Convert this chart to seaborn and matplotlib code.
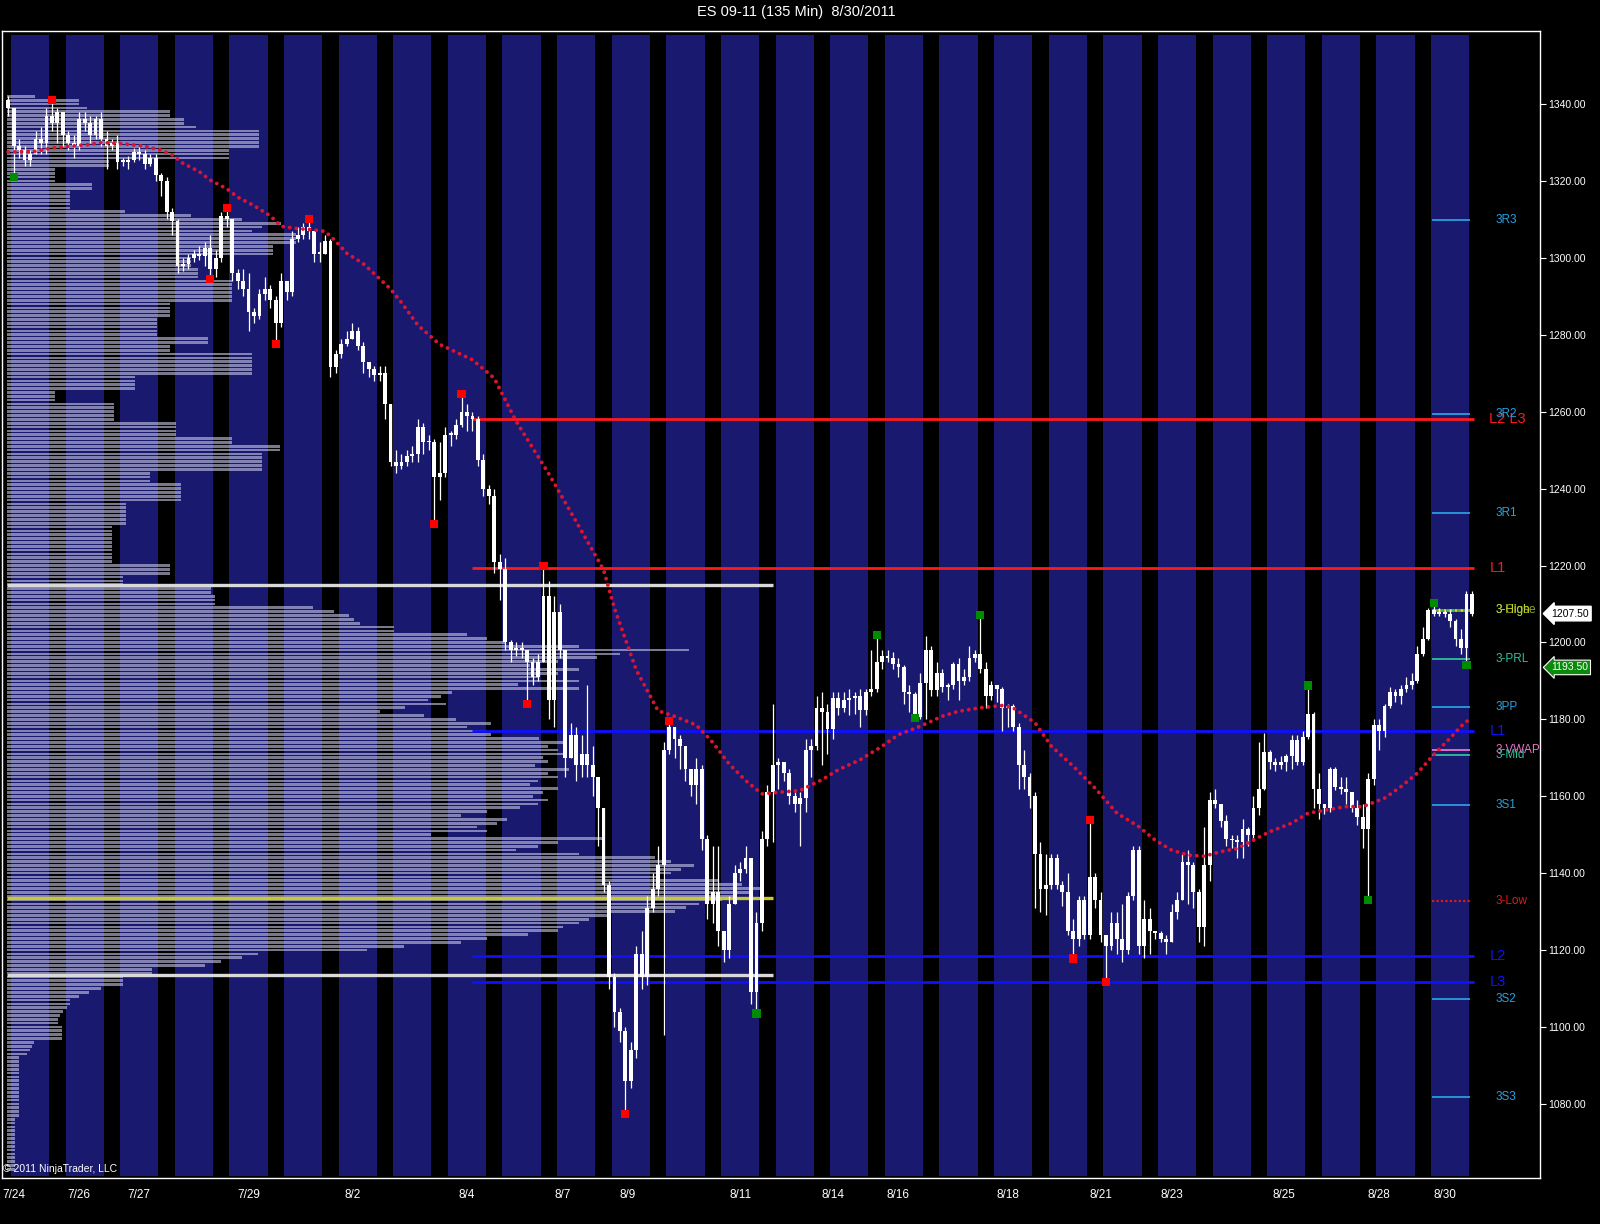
import matplotlib
matplotlib.use('Agg')
import matplotlib.pyplot as plt
import seaborn as sns
import numpy as np
import pandas as pd

# ES 09-11, 135 min bars, 7/24 - 8/30/2011 (one row per session)
first_open = 1341
closes = [
    1339, 1329, 1328, 1325.5, 1327, 1331, 1330, 1337, 1335, 1338,
    1332, 1330, 1329, 1336, 1335, 1332, 1336, 1331, 1329, 1330,
    1325, 1325, 1325.5, 1327.5, 1327, 1324.5, 1326, 1321.5, 1320, 1312,
    1309.5, 1298, 1298.5, 1300, 1301, 1300.5, 1302.5, 1297, 1300, 1311,
    1310, 1296, 1294, 1292, 1286, 1285, 1290.5, 1292, 1289, 1283,
    1294, 1291, 1305, 1306, 1308, 1307, 1301, 1301, 1304.5, 1271.5,
    1275, 1277.5, 1279, 1281, 1277, 1273, 1271, 1269.5, 1270, 1262,
    1247, 1246, 1247, 1248.5, 1249, 1256, 1252, 1252, 1243, 1244,
    1254, 1254, 1256.5, 1260, 1259, 1258, 1247.5, 1240, 1238, 1221,
    1219, 1200, 1198, 1198.5, 1198, 1195, 1191, 1195, 1212, 1185,
    1208, 1198, 1170, 1176, 1168, 1171, 1168, 1165, 1157, 1137,
    1113, 1104, 1099, 1086, 1094, 1119, 1113, 1131, 1136, 1142,
    1172, 1178, 1175, 1173, 1167, 1163, 1167, 1149, 1132, 1135,
    1125, 1120, 1132, 1140, 1141, 1144, 1109, 1127, 1149, 1161,
    1168, 1169, 1166, 1160, 1158, 1159.5, 1172, 1173, 1183, 1182,
    1177.5, 1185.5, 1183, 1185, 1185.5, 1186, 1182.5, 1187, 1188, 1195,
    1196.5, 1196, 1194.5, 1193.5, 1187, 1186.5, 1180.5, 1189.5, 1198, 1187.5,
    1192, 1188.5, 1189, 1194.5, 1190, 1191, 1196, 1197, 1193, 1186,
    1189, 1188, 1183, 1183.5, 1178, 1168, 1165, 1160, 1145, 1136,
    1137, 1144, 1137, 1135, 1125, 1123, 1133, 1124, 1139, 1133,
    1124, 1121, 1127, 1123, 1120, 1134, 1146, 1121, 1128, 1125,
    1124.5, 1123, 1122, 1130, 1133, 1143, 1142, 1135, 1126, 1142,
    1159, 1158, 1153.5, 1149, 1148.5, 1148, 1151.5, 1150, 1157, 1162,
    1171.5, 1169, 1168, 1169, 1170.5, 1174.5, 1169, 1175.5, 1181.5, 1162,
    1158, 1157, 1167, 1162.5, 1162, 1161, 1157, 1154.5, 1151.5, 1164.5,
    1178.5, 1177, 1183.5, 1187, 1186, 1188, 1189, 1190, 1197, 1201,
    1208.5, 1207.5, 1208, 1207.5, 1205.5, 1201, 1198.5, 1212.5, 1207.5,
]
highs = [
    1342, 1332, 1331, 1329, 1328, 1333, 1334, 1339, 1341, 1339,
    1338, 1333, 1332, 1338, 1338, 1337, 1337, 1338, 1333, 1331,
    1332, 1326, 1326.5, 1328.5, 1329, 1328, 1327, 1327, 1322, 1321,
    1313, 1310, 1300, 1301, 1302, 1303, 1304, 1306, 1302, 1312,
    1313, 1310, 1297, 1297, 1296, 1287, 1292, 1295, 1293, 1290,
    1296, 1294, 1307, 1308, 1309, 1310, 1307, 1304, 1306, 1305,
    1276, 1279, 1281, 1283, 1282, 1278, 1273, 1272, 1272, 1272,
    1261, 1250, 1249, 1250, 1251, 1258, 1257, 1254, 1253, 1252,
    1256, 1255, 1258, 1264.7, 1262, 1260, 1259, 1249, 1241, 1240,
    1223, 1222, 1200.5, 1200, 1200, 1197, 1196, 1197, 1219.8, 1216,
    1212, 1210, 1180, 1179, 1178, 1176, 1189, 1173, 1165, 1157,
    1138, 1114, 1105, 1100, 1096, 1121, 1125, 1134, 1140, 1147,
    1174, 1179.6, 1178, 1176, 1172, 1166, 1170, 1168, 1150, 1147,
    1147, 1125, 1134, 1142, 1143, 1147, 1133, 1130, 1151, 1163,
    1184, 1170, 1168, 1167, 1161, 1161, 1175, 1175, 1186, 1187,
    1184, 1187, 1187, 1187, 1188, 1187, 1188, 1188, 1198, 1202,
    1198, 1198, 1197.5, 1196, 1194, 1189, 1187, 1192, 1201.7, 1199,
    1195, 1193, 1189.5, 1195, 1196, 1193, 1199, 1198, 1207.2, 1195,
    1190, 1189, 1188.5, 1184, 1184, 1179, 1172, 1166, 1161, 1148,
    1145, 1145, 1145, 1138, 1140, 1128, 1134, 1134, 1153.9, 1140,
    1135, 1123, 1130, 1130, 1132, 1135, 1147, 1147, 1133, 1131,
    1125, 1125, 1124, 1132, 1135, 1145, 1146, 1143, 1136, 1152,
    1161, 1162, 1158, 1155, 1150, 1150, 1154, 1152, 1160, 1174,
    1176.5, 1172, 1170, 1170.5, 1171, 1176, 1176, 1177, 1188.8, 1182,
    1166, 1158, 1167.5, 1167.5, 1165, 1165, 1160, 1159, 1158, 1166,
    1180, 1180, 1184, 1188.5, 1188, 1189, 1191, 1192, 1199, 1204,
    1209, 1210.3, 1209, 1208.5, 1208.5, 1206, 1203.5, 1213.5, 1213.5,
]
lows = [
    1337, 1321, 1326, 1324, 1324, 1327, 1327, 1327, 1333, 1330,
    1329, 1328, 1326, 1328, 1333, 1330, 1331, 1329, 1323, 1328,
    1323, 1324, 1323, 1325, 1325.5, 1323, 1324, 1320, 1316, 1310,
    1306, 1296, 1296.5, 1297, 1299, 1299.5, 1298, 1294.6, 1295, 1299,
    1308, 1294, 1292, 1290, 1281, 1283, 1284, 1289, 1287, 1277.5,
    1282, 1289, 1290, 1304, 1305, 1305, 1299, 1299, 1301, 1269,
    1270, 1274, 1277, 1279, 1276, 1270, 1269, 1268, 1268, 1258,
    1246, 1244, 1245, 1246, 1247, 1247, 1249, 1250, 1230.7, 1237,
    1243, 1251, 1253, 1256, 1255, 1255, 1246, 1238, 1236, 1218,
    1211, 1198, 1195, 1196.5, 1196, 1184, 1189, 1190, 1195, 1180,
    1178, 1196, 1165, 1170, 1164, 1165, 1165, 1160, 1147, 1135,
    1110, 1100, 1096, 1077.4, 1084, 1092, 1110, 1111, 1130, 1134,
    1098, 1171, 1170, 1167, 1164, 1160, 1158, 1146, 1128, 1127,
    1121, 1117, 1118, 1132, 1138, 1140, 1106, 1103.5, 1125, 1147,
    1148, 1162, 1164, 1158, 1156, 1147, 1156, 1165, 1172, 1168,
    1171, 1175, 1181, 1182, 1181, 1181.5, 1178, 1181, 1186, 1187,
    1193, 1195, 1193, 1191, 1184, 1182, 1180.4, 1180, 1180, 1186,
    1186, 1187, 1185, 1188, 1185, 1189, 1190, 1195, 1192, 1183,
    1185, 1184.5, 1177, 1178, 1177, 1162, 1162, 1157, 1131, 1130,
    1129, 1136, 1136, 1131.5, 1124, 1117.8, 1121, 1123, 1123, 1131,
    1122, 1111.6, 1120, 1119, 1117, 1119, 1133, 1119, 1118, 1119,
    1123, 1122, 1119, 1122, 1128, 1133, 1132, 1131, 1122, 1121,
    1138, 1157, 1152, 1147, 1146.5, 1144, 1144, 1147, 1149, 1155,
    1161.5, 1167, 1166.5, 1167, 1166.5, 1167, 1168, 1168, 1175, 1157,
    1154, 1155.5, 1156, 1161.5, 1160.5, 1158, 1156, 1152.5, 1146.5, 1133,
    1163, 1172, 1175.5, 1183, 1184.5, 1184, 1187, 1188, 1189.5, 1196.5,
    1200.5, 1207, 1207, 1206.5, 1204, 1199, 1197, 1194.2, 1207,
]

# moving average (bar, value)
ma_bars = [0, 5, 8, 11, 15, 17, 21, 25, 28, 30, 32, 35, 37, 40, 42, 45, 48, 50, 53, 55,
           58, 60, 62, 65, 67, 70, 72, 75, 79, 82, 85, 89, 93, 99, 105, 109, 111, 115, 119, 122,
           126, 129, 132, 135, 138, 141, 145, 149, 152, 156, 160, 163, 167, 171, 174, 178, 182, 184, 188, 191,
           195, 199, 203, 207, 210, 213, 216, 219, 222, 225, 228, 231, 235, 238, 242, 245, 248, 252, 255, 258,
           261, 264, 266, 268]
ma_vals = [1327.5, 1327.7, 1328.6, 1329, 1329.5, 1330, 1329.7, 1329, 1328, 1326.8,
           1324.6, 1322.4, 1320.2, 1318, 1315.8, 1313.6, 1310.9, 1308.2, 1307.6, 1307.4,
           1306.9, 1304.3, 1301.2, 1298.5, 1295.9, 1291.9, 1288.4, 1282.5, 1277.5, 1275.5,
           1273.5, 1268.7, 1257.5, 1243.8, 1228.9, 1218.9, 1208.9, 1192.8, 1182.2, 1180.8,
           1178.5, 1174, 1168.4, 1164.1, 1160.6, 1161, 1161.5, 1164.3, 1166.9, 1169.5,
           1173, 1176, 1178.2, 1180.8, 1182.1, 1183, 1183.6, 1183, 1179.1, 1173,
           1167.8, 1162.1, 1155.6, 1152.1, 1148.6, 1146, 1144.7, 1144.4, 1145.6, 1146.4,
           1148.6, 1150.8, 1153, 1155.6, 1156.6, 1157.3, 1157.3, 1159.5, 1162.5, 1166,
           1170.8, 1175.1, 1178.2, 1180.6]

# swing markers
red_bars = [8, 37, 40, 49, 55, 78, 83, 95, 98, 113, 121, 195, 198, 201]
red_prices = [1341, 1294.6, 1313, 1277.5, 1310, 1230.7, 1264.7, 1184, 1219.8, 1077.4, 1179.6, 1117.8, 1153.9, 1111.6]
green_bars = [1, 137, 159, 166, 178, 238, 249, 261, 267]
green_prices = [1321, 1103.5, 1202, 1180.4, 1207.2, 1188.8, 1133, 1210.3, 1194.2]

# volume profile, one value per point from 1342 down to 1063
profile_top = 1342
profile_vol = [
    27, 70, 70, 78, 160, 160, 173, 173, 185, 247,
    247, 247, 247, 247, 217, 217, 217, 100, 100, 47,
    47, 47, 47, 83, 83, 62, 62, 62, 62, 62,
    115, 180, 230, 268, 250, 240, 283, 283, 283, 260,
    260, 260, 180, 180, 180, 187, 187, 187, 220, 220,
    220, 220, 220, 220, 160, 160, 160, 160, 147, 147,
    147, 147, 147, 197, 197, 160, 160, 240, 240, 240,
    240, 240, 240, 125, 125, 125, 125, 47, 47, 47,
    105, 105, 105, 105, 105, 165, 165, 165, 165, 220,
    220, 267, 267, 250, 250, 250, 250, 250, 140, 140,
    140, 170, 170, 170, 170, 170, 116, 116, 116, 116,
    116, 116, 103, 103, 103, 103, 103, 103, 103, 103,
    103, 103, 160, 160, 160, 114, 114, 114, 200, 200,
    204, 204, 204, 300, 320, 335, 340, 346, 379, 379,
    450, 470, 488, 560, 668, 600, 578, 540, 512, 560,
    540, 520, 560, 500, 560, 436, 425, 412, 430, 390,
    365, 408, 440, 474, 450, 470, 474, 521, 545, 530,
    540, 545, 525, 530, 517, 550, 530, 540, 520, 512,
    540, 525, 515, 530, 520, 502, 470, 445, 490, 480,
    460, 470, 415, 583, 540, 520, 498, 560, 635, 650,
    673, 660, 650, 640, 697, 720, 739, 730, 715, 700,
    678, 665, 654, 588, 570, 560, 545, 540, 510, 470,
    445, 389, 353, 246, 230, 210, 194, 142, 142, 114,
    114, 114, 92, 80, 70, 62, 62, 59, 55, 52,
    50, 50, 54, 54, 54, 54, 26, 24, 22, 19,
    12, 12, 12, 12, 12, 12, 12, 12, 12, 12,
    12, 12, 12, 12, 12, 12, 8, 8, 8, 8,
    8, 8, 8, 8, 8, 8, 8, 8, 8, 8,
]
profile_vah, profile_poc, profile_val = 1215.0, 1133.5, 1113.5

# key levels and pivots
level_names = ['L2 L3', 'L1', 'L1', 'L2', 'L3']
level_prices = [1258.0, 1219.3, 1176.9, 1118.5, 1111.6]
pivot_names = ['3R3', '3R2', '3R1', '3-PRL', '3PP', '3-VWAP', '3-Mid', '3S1', '3S2', '3S3']
pivot_prices = [1309.8, 1259.4, 1233.6, 1195.7, 1183.2, 1172.0, 1170.8, 1157.8, 1107.4, 1081.9]
prior_high_close = 1208.4
prior_low = 1132.8
last_price = 1207.5
session_low = 1193.5

date_ticks = [1, 13, 24, 44, 63, 84, 101.5, 113.5, 134, 151, 163, 183, 200, 213, 233.5, 251, 263]
date_labels = ['7/24', '7/26', '7/27', '7/29', '8/2', '8/4', '8/7', '8/9', '8/11',
               '8/14', '8/16', '8/18', '8/21', '8/23', '8/25', '8/28', '8/30']
other_ticks = [34, 52, 53.5, 73.5, 94.5, 124, 144, 173, 193, 223.5, 243.5]

# ---------------------------------------------------------------
sns.set_style("dark")
plt.rcParams['font.family'] = ['Liberation Sans', 'DejaVu Sans']
plt.rcParams['axes.facecolor'] = 'black'
plt.rcParams['figure.facecolor'] = 'black'

fig = plt.figure(figsize=(16, 12.24), dpi=100)
ax = fig.add_axes([0.0013, 0.0375, 0.961, 0.9375])
ax.set_facecolor('black')

n = len(closes)
x = np.arange(n)
c = np.array(closes, dtype=float)
o = np.r_[first_open, c[:-1]]
body_lo = np.minimum(o, c)
body_hi = np.maximum(o, c)

# session background bands
for k in range(27):
    ax.axvspan(10 * k + 0.5, 10 * k + 7.5, ymin=0.002, ymax=0.996, color='#191970', lw=0, zorder=0)

# volume profile
px = 5.35  # pixels per bar in the original
levels = profile_top - np.arange(len(profile_vol))
ax.barh(levels, np.array(profile_vol) / px, left=-0.2, height=0.7,
        color='#cacae6', alpha=0.6, lw=0, zorder=1)
ax.hlines([profile_vah, profile_val], -0.2, 140, color='#d9d9d9', lw=2.4, zorder=2)
ax.hlines(profile_poc, -0.2, 140, color='#c8c830', lw=2.4, zorder=2)

# L levels
lvl_colors = ['#ff1a1a', '#ff1a1a', '#1010ff', '#1010ff', '#1010ff']
ax.hlines(level_prices, 85, 268.4, colors=lvl_colors, lw=2, zorder=2)
for name, p, col in zip(level_names, level_prices, lvl_colors):
    ax.text(271.2, p, name, color=col, fontsize=10.5, va='center', ha='left', zorder=6)

# pivots of the last session
piv_colors = ['#2a9fe0', '#2a9fe0', '#2a9fe0', '#2fc09a', '#2a9fe0',
              '#e874c8', '#2fc09a', '#2a9fe0', '#2a9fe0', '#2a9fe0']
ax.hlines(pivot_prices, 260.6, 267.6, colors=piv_colors, lw=1.3, zorder=2)
for name, p, col in zip(pivot_names, pivot_prices, piv_colors):
    ax.text(272.3, p, name, color=col, fontsize=8.5, va='center', ha='left', zorder=6)
ax.hlines(prior_low, 260.6, 268, color='#e01818', lw=1.6, linestyles=(0, (1, 1)), zorder=2)
ax.text(272.3, prior_low, '3-Low', color='#e01818', fontsize=8.5, va='center', ha='left')
ax.hlines(prior_high_close, 260.6, 268.2, color='#d8d820', lw=2, linestyles=(0, (1, 1)), zorder=2)
ax.hlines(prior_high_close, 260.6, 268.2, color='#40c040', lw=2, linestyles=(1, (1, 1)), zorder=2)
ax.text(272.3, prior_high_close, '3-High', color='#d8d820', fontsize=8.5, va='center', ha='left')
ax.text(272.3, prior_high_close, '3-Close', color='#9acd32', fontsize=8.5, va='center', ha='left', alpha=0.85)

# candles
ax.vlines(x, np.minimum(lows, body_lo), np.maximum(highs, body_hi), color='white', lw=0.9, zorder=3)
ax.bar(x, np.maximum(body_hi - body_lo, 0.4), bottom=body_lo, width=0.7,
       color='white', lw=0, zorder=3)

# moving average (dotted)
ma_df = pd.DataFrame({'bar': ma_bars, 'ma': ma_vals})
sns.lineplot(data=ma_df, x='bar', y='ma', ax=ax, color='#dc1432', lw=2.8, zorder=4)
ma_line = ax.lines[-1]
ma_line.set_linestyle((0, (0.01, 1.7)))
ma_line.set_dash_capstyle('round')

# swing markers
sns.scatterplot(x=red_bars, y=red_prices, ax=ax, color='#ff0000', marker='s', s=34,
                edgecolor='none', zorder=5)
sns.scatterplot(x=green_bars, y=green_prices, ax=ax, color='#008c00', marker='s', s=34,
                edgecolor='none', zorder=5)

# axes
ax.set_xlim(-1.12, 280.4)
ax.set_ylim(1060.7, 1359.1)
ax.set_xlabel('')
ax.set_ylabel('')
ax.grid(False)
for s in ax.spines.values():
    s.set_color('white')
    s.set_linewidth(1)
    s.set_visible(True)

ax.yaxis.tick_right()
yt = np.arange(1080, 1341, 20)
ax.set_yticks(yt)
ax.set_yticklabels(['%.2f' % v for v in yt])
ax.tick_params(axis='y', colors='white', labelsize=7.5, length=4, width=0.8,
               direction='out', pad=2, labelcolor='white')
ax.set_xticks(date_ticks)
ax.set_xticklabels(date_labels)
ax.set_xticks(other_ticks, minor=True)
ax.tick_params(axis='x', which='both', colors='white', labelsize=8.5, length=5,
               width=0.8, direction='out', pad=3, labelcolor='white')

# price flags on the axis
trans = ax.get_yaxis_transform()
ax.text(1.0075, last_price, '%.2f' % last_price, transform=trans, fontsize=7.5, color='black',
        va='center', ha='left', clip_on=False,
        bbox=dict(boxstyle='larrow,pad=0.22', fc='white', ec='white'))
ax.text(1.0075, session_low, '%.2f' % session_low, transform=trans, fontsize=7.5, color='white',
        va='center', ha='left', clip_on=False,
        bbox=dict(boxstyle='larrow,pad=0.22', fc='#0a8a0a', ec='white', lw=0.8))

ax.text(0.0008, 0.004, '\u00a9 2011 NinjaTrader, LLC', transform=ax.transAxes,
        fontsize=7.5, color='white', va='bottom', ha='left', zorder=7)
fig.text(0.498, 0.99, 'ES 09-11 (135 Min)  8/30/2011', color='white', fontsize=10.5,
         ha='center', va='center')

fig.savefig('out.png', dpi=100, facecolor='black')
